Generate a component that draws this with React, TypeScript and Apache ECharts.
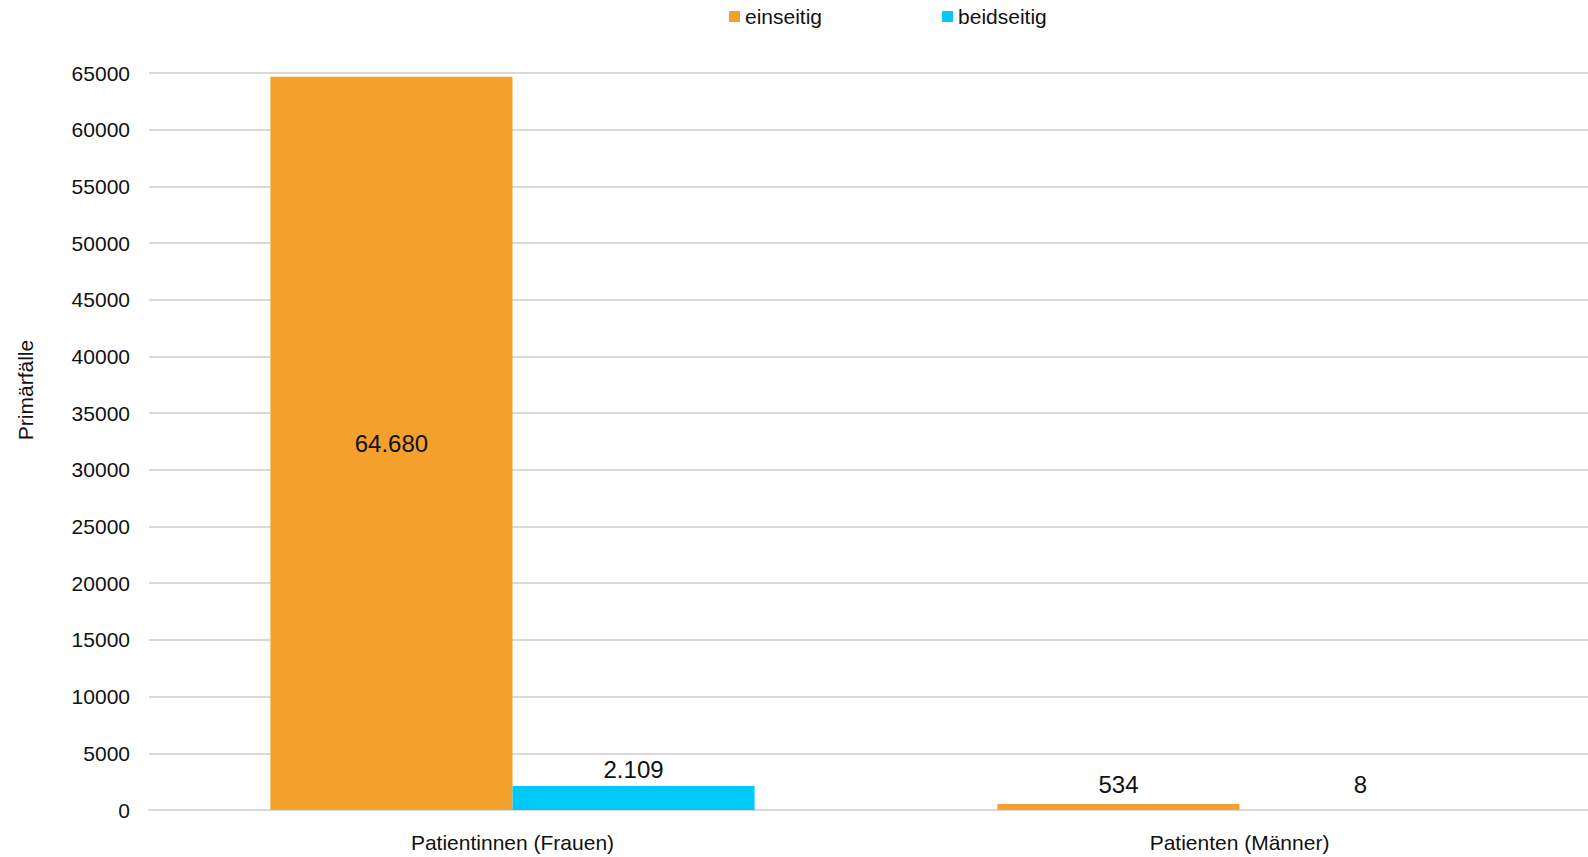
import React, { useEffect, useRef } from "react";
import * as echarts from "echarts";

const categories = ["Patientinnen (Frauen)", "Patienten (Männer)"];
const einseitig = [64680, 534];
const beidseitig = [2109, 8];
const seriesNames = ["einseitig", "beidseitig"];
const yAxisName = "Primärfälle";

const fmt = (v: number) => {
  const s = String(Math.round(v));
  return s.replace(/\B(?=(\d{3})+(?!\d))/g, ".");
};

export default function App() {
  const ref = useRef<HTMLDivElement>(null);
  useEffect(() => {
    const chart = echarts.init(ref.current!, null, { renderer: "svg" });
    const font = "'Liberation Sans', Arial, sans-serif";
    const labelStyle = { fontSize: 24, color: "#111", fontFamily: font };
    chart.setOption({
      animation: false,
      textStyle: { fontFamily: font, color: "#000" },
      legend: {
        data: seriesNames,
        left: 729,
        top: 6,
        padding: 0,
        itemWidth: 11,
        itemHeight: 11,
        itemGap: 120,
        icon: "rect",
        textStyle: { fontSize: 21, color: "#111", fontFamily: font },
      },
      grid: { left: 149, top: 73, bottom: 47, right: 1, containLabel: false },
      xAxis: {
        type: "category",
        data: categories,
        axisTick: { show: false },
        axisLine: { lineStyle: { color: "#d9d9d9", width: 2 } },
        axisLabel: { fontSize: 21, color: "#111", margin: 22, fontFamily: font },
      },
      yAxis: {
        type: "value",
        min: 0,
        max: 65000,
        interval: 5000,
        axisLine: { show: false },
        axisTick: { show: false },
        splitLine: { lineStyle: { color: "#d9d9d9", width: 2 } },
        axisLabel: {
          fontSize: 21,
          color: "#111",
          margin: 19,
          fontFamily: font,
          formatter: (v: number) => String(v),
        },
      },
      graphic: [
        {
          type: "text",
          x: 25,
          y: 390,
          rotation: Math.PI / 2,
          style: {
            text: yAxisName,
            fontSize: 21,
            fontFamily: font,
            fill: "#111",
            align: "center",
            verticalAlign: "middle",
          },
        },
      ],
      series: [
        {
          name: seriesNames[0],
          type: "bar",
          data: einseitig.map((v, i) => ({
            value: v,
            label: i === 0 ? { position: "inside" } : { position: "top", distance: 7 },
          })),
          barGap: "0%",
          barCategoryGap: "33.4%",
          itemStyle: { color: "#F4A02D" },
          label: {
            show: true,
            formatter: (p: any) => fmt(p.value),
            ...labelStyle,
          },
        },
        {
          name: seriesNames[1],
          type: "bar",
          data: beidseitig.map((v, i) => ({
            value: v,
            label: { position: "top", distance: i === 0 ? 5 : 13 },
          })),
          itemStyle: { color: "#00C8F8" },
          label: {
            show: true,
            formatter: (p: any) => fmt(p.value),
            ...labelStyle,
          },
        },
      ],
    });
    return () => chart.dispose();
  }, []);
  return (
    <div
      style={{
        position: "absolute",
        left: 0,
        top: 0,
        width: 1588,
        height: 857,
        overflow: "hidden",
      }}
    >
      <div ref={ref} style={{ width: 1604, height: 857 }} />
    </div>
  );
}
